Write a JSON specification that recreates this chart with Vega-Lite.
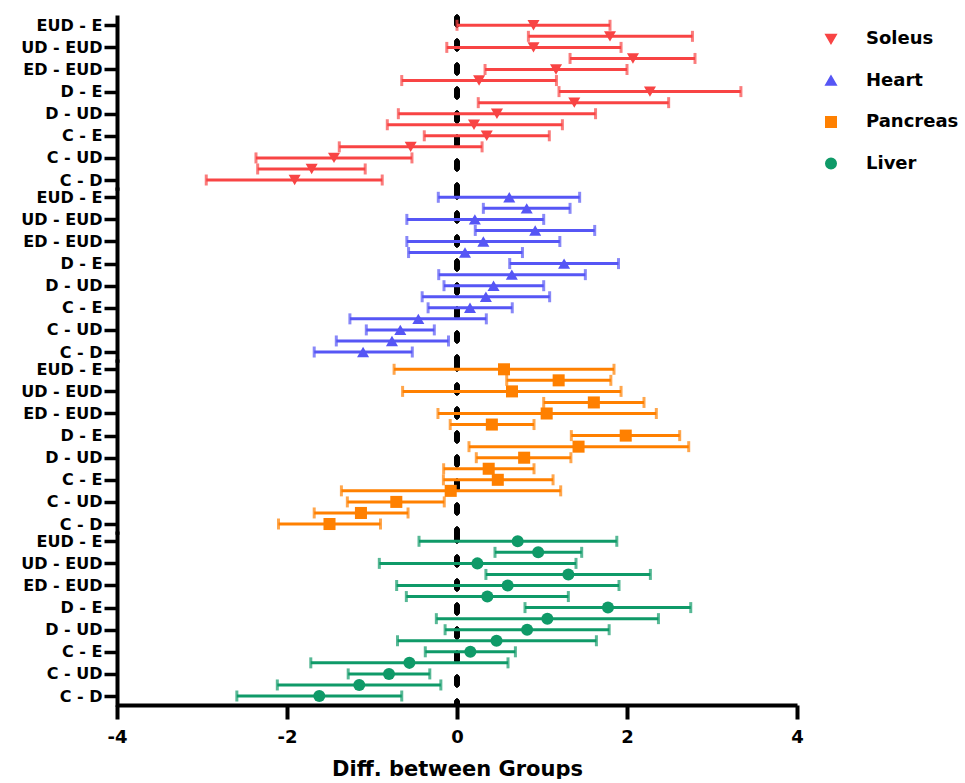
{
  "$schema": "https://vega.github.io/schema/vega-lite/v6.json",
  "padding": {"left": 5, "top": 14, "right": 2, "bottom": 0},
  "bounds": "flush",
  "data": {"values": [
    {"tissue": "Soleus", "comp": "EUD - E", "lo": 0.00, "mean": 0.90, "hi": 1.80},
    {"tissue": "Soleus", "comp": "UD - E", "lo": 0.84, "mean": 1.80, "hi": 2.77},
    {"tissue": "Soleus", "comp": "UD - EUD", "lo": -0.12, "mean": 0.90, "hi": 1.93},
    {"tissue": "Soleus", "comp": "ED - E", "lo": 1.33, "mean": 2.07, "hi": 2.80},
    {"tissue": "Soleus", "comp": "ED - EUD", "lo": 0.33, "mean": 1.165, "hi": 2.00},
    {"tissue": "Soleus", "comp": "ED - UD", "lo": -0.65, "mean": 0.26, "hi": 1.17},
    {"tissue": "Soleus", "comp": "D - E", "lo": 1.20, "mean": 2.27, "hi": 3.34},
    {"tissue": "Soleus", "comp": "D - EUD", "lo": 0.25, "mean": 1.38, "hi": 2.49},
    {"tissue": "Soleus", "comp": "D - UD", "lo": -0.69, "mean": 0.47, "hi": 1.63},
    {"tissue": "Soleus", "comp": "D - ED", "lo": -0.82, "mean": 0.20, "hi": 1.24},
    {"tissue": "Soleus", "comp": "C - E", "lo": -0.385, "mean": 0.35, "hi": 1.086},
    {"tissue": "Soleus", "comp": "C - EUD", "lo": -1.385, "mean": -0.545, "hi": 0.295},
    {"tissue": "Soleus", "comp": "C - UD", "lo": -2.365, "mean": -1.447, "hi": -0.53},
    {"tissue": "Soleus", "comp": "C - ED", "lo": -2.345, "mean": -1.71, "hi": -1.08},
    {"tissue": "Soleus", "comp": "C - D", "lo": -2.95, "mean": -1.91, "hi": -0.88},
    {"tissue": "Heart", "comp": "EUD - E", "lo": -0.22, "mean": 0.615, "hi": 1.443},
    {"tissue": "Heart", "comp": "UD - E", "lo": 0.31, "mean": 0.82, "hi": 1.33},
    {"tissue": "Heart", "comp": "UD - EUD", "lo": -0.59, "mean": 0.21, "hi": 1.02},
    {"tissue": "Heart", "comp": "ED - E", "lo": 0.215, "mean": 0.92, "hi": 1.62},
    {"tissue": "Heart", "comp": "ED - EUD", "lo": -0.59, "mean": 0.31, "hi": 1.21},
    {"tissue": "Heart", "comp": "ED - UD", "lo": -0.57, "mean": 0.094, "hi": 0.77},
    {"tissue": "Heart", "comp": "D - E", "lo": 0.62, "mean": 1.26, "hi": 1.90},
    {"tissue": "Heart", "comp": "D - EUD", "lo": -0.215, "mean": 0.645, "hi": 1.51},
    {"tissue": "Heart", "comp": "D - UD", "lo": -0.153, "mean": 0.43, "hi": 1.02},
    {"tissue": "Heart", "comp": "D - ED", "lo": -0.41, "mean": 0.34, "hi": 1.09},
    {"tissue": "Heart", "comp": "C - E", "lo": -0.34, "mean": 0.153, "hi": 0.65},
    {"tissue": "Heart", "comp": "C - EUD", "lo": -1.26, "mean": -0.455, "hi": 0.345},
    {"tissue": "Heart", "comp": "C - UD", "lo": -1.067, "mean": -0.667, "hi": -0.267},
    {"tissue": "Heart", "comp": "C - ED", "lo": -1.42, "mean": -0.765, "hi": -0.10},
    {"tissue": "Heart", "comp": "C - D", "lo": -1.68, "mean": -1.105, "hi": -0.526},
    {"tissue": "Pancreas", "comp": "EUD - E", "lo": -0.74, "mean": 0.553, "hi": 1.847},
    {"tissue": "Pancreas", "comp": "UD - E", "lo": 0.585, "mean": 1.196, "hi": 1.81},
    {"tissue": "Pancreas", "comp": "UD - EUD", "lo": -0.64, "mean": 0.647, "hi": 1.93},
    {"tissue": "Pancreas", "comp": "ED - E", "lo": 1.02, "mean": 1.61, "hi": 2.20},
    {"tissue": "Pancreas", "comp": "ED - EUD", "lo": -0.224, "mean": 1.055, "hi": 2.345},
    {"tissue": "Pancreas", "comp": "ED - UD", "lo": -0.08, "mean": 0.41, "hi": 0.906},
    {"tissue": "Pancreas", "comp": "D - E", "lo": 1.345, "mean": 1.985, "hi": 2.62},
    {"tissue": "Pancreas", "comp": "D - EUD", "lo": 0.141, "mean": 1.43, "hi": 2.726},
    {"tissue": "Pancreas", "comp": "D - UD", "lo": 0.227, "mean": 0.79, "hi": 1.34},
    {"tissue": "Pancreas", "comp": "D - ED", "lo": -0.157, "mean": 0.373, "hi": 0.906},
    {"tissue": "Pancreas", "comp": "C - E", "lo": -0.16, "mean": 0.48, "hi": 1.13},
    {"tissue": "Pancreas", "comp": "C - EUD", "lo": -1.36, "mean": -0.074, "hi": 1.22},
    {"tissue": "Pancreas", "comp": "C - UD", "lo": -1.29, "mean": -0.714, "hi": -0.15},
    {"tissue": "Pancreas", "comp": "C - ED", "lo": -1.68, "mean": -1.13, "hi": -0.576},
    {"tissue": "Pancreas", "comp": "C - D", "lo": -2.10, "mean": -1.50, "hi": -0.90},
    {"tissue": "Liver", "comp": "EUD - E", "lo": -0.447, "mean": 0.714, "hi": 1.88},
    {"tissue": "Liver", "comp": "UD - E", "lo": 0.447, "mean": 0.955, "hi": 1.467},
    {"tissue": "Liver", "comp": "UD - EUD", "lo": -0.914, "mean": 0.24, "hi": 1.40},
    {"tissue": "Liver", "comp": "ED - E", "lo": 0.34, "mean": 1.31, "hi": 2.275},
    {"tissue": "Liver", "comp": "ED - EUD", "lo": -0.71, "mean": 0.596, "hi": 1.906},
    {"tissue": "Liver", "comp": "ED - UD", "lo": -0.596, "mean": 0.357, "hi": 1.31},
    {"tissue": "Liver", "comp": "D - E", "lo": 0.80, "mean": 1.776, "hi": 2.75},
    {"tissue": "Liver", "comp": "D - EUD", "lo": -0.243, "mean": 1.063, "hi": 2.37},
    {"tissue": "Liver", "comp": "D - UD", "lo": -0.14, "mean": 0.825, "hi": 1.79},
    {"tissue": "Liver", "comp": "D - ED", "lo": -0.70, "mean": 0.465, "hi": 1.64},
    {"tissue": "Liver", "comp": "C - E", "lo": -0.373, "mean": 0.157, "hi": 0.687},
    {"tissue": "Liver", "comp": "C - EUD", "lo": -1.72, "mean": -0.56, "hi": 0.60},
    {"tissue": "Liver", "comp": "C - UD", "lo": -1.28, "mean": -0.80, "hi": -0.32},
    {"tissue": "Liver", "comp": "C - ED", "lo": -2.114, "mean": -1.15, "hi": -0.19},
    {"tissue": "Liver", "comp": "C - D", "lo": -2.59, "mean": -1.62, "hi": -0.65}
  ]},
  "facet": {
    "row": {"field": "tissue", "type": "nominal", "sort": ["Soleus", "Heart", "Pancreas", "Liver"], "header": {"labels": false, "title": null}}
  },
  "spacing": {"row": 0},
  "spec": {
    "width": 680,
    "height": 171.3,
    "encoding": {
      "y": {
        "field": "comp", "type": "nominal", "title": null,
        "scale": {"type": "point", "padding": 0.75, "domain": ["EUD - E", "UD - E", "UD - EUD", "ED - E", "ED - EUD", "ED - UD", "D - E", "D - EUD", "D - UD", "D - ED", "C - E", "C - EUD", "C - UD", "C - ED", "C - D"]},
        "axis": {
          "values": ["EUD - E", "UD - EUD", "ED - EUD", "D - E", "D - UD", "C - E", "C - UD", "C - D"],
          "labelFont": "DejaVu Sans", "labelFontSize": 16, "labelFontWeight": "bold", "labelColor": "black", "labelPadding": 2,
          "tickSize": 13, "tickWidth": 3.5, "tickColor": "black",
          "domainWidth": 4, "domainColor": "black", "domainCap": "square", "grid": false, "minExtent": 112
        }
      }
    },
    "layer": [
      {
        "mark": {"type": "rule", "strokeDash": [8, 16], "strokeWidth": 4.5, "strokeCap": "round", "color": "black"},
        "encoding": {"x": {"datum": 0, "type": "quantitative"}, "y": null}
      },
      {
        "mark": {"type": "errorbar", "thickness": 3, "ticks": {"size": 11, "thickness": 3}},
        "encoding": {
          "x": {"field": "lo", "type": "quantitative", "title": "Diff. between Groups"},
          "x2": {"field": "hi"},
          "color": {"field": "tissue", "type": "nominal"}
        }
      },
      {
        "mark": {"type": "point", "filled": true, "opacity": 1, "size": 145},
        "encoding": {
          "x": {
            "field": "mean", "type": "quantitative",
            "title": "Diff. between Groups",
            "scale": {"domain": [-4, 4], "nice": false, "zero": false},
            "axis": {
              "values": [-4, -2, 0, 2, 4], "grid": false, "labelFlush": false,
              "labelExpr": "'' + datum.value",
              "labelFont": "DejaVu Sans", "labelFontSize": 18, "labelFontWeight": "bold", "labelColor": "black", "labelPadding": 9,
              "tickSize": 14, "tickWidth": 4, "tickColor": "black",
              "domainWidth": 4, "domainColor": "black",
              "titleFont": "DejaVu Sans", "titleFontSize": 21, "titleFontWeight": "bold", "titleColor": "black", "titlePadding": 12
            }
          },
          "color": {
            "field": "tissue", "type": "nominal",
            "scale": {"domain": ["Soleus", "Heart", "Pancreas", "Liver"], "range": ["#F84444", "#5656F5", "#FF8000", "#0F9A68"]},
            "legend": {"title": null}
          },
          "shape": {
            "field": "tissue", "type": "nominal",
            "scale": {"domain": ["Soleus", "Heart", "Pancreas", "Liver"], "range": ["triangle-down", "triangle-up", "square", "circle"]},
            "legend": {"title": null}
          }
        }
      }
    ]
  },
  "config": {
    "font": "DejaVu Sans",
    "view": {"stroke": null},
    "legend": {
      "orient": "right", "offset": 5, "padding": 13,
      "labelFont": "DejaVu Sans", "labelFontSize": 18, "labelFontWeight": "bold", "labelColor": "black",
      "symbolSize": 110, "labelOffset": 26, "rowPadding": 23.5, "symbolOpacity": 1
    }
  }
}
